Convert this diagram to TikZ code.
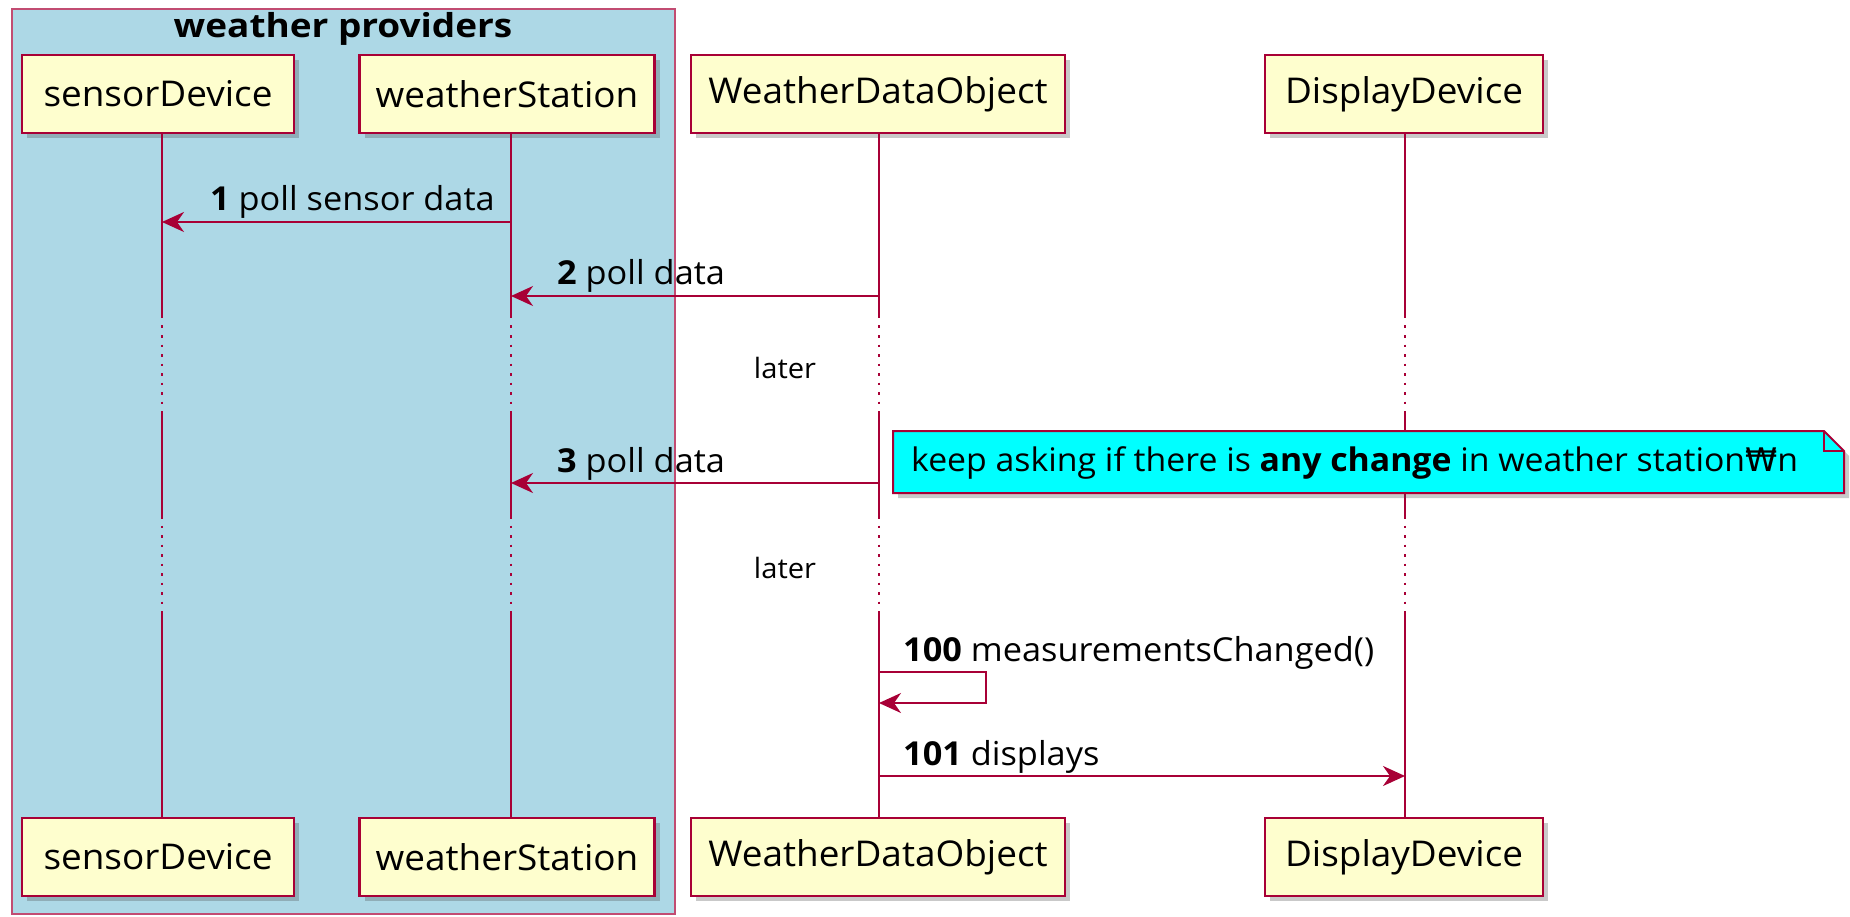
\documentclass[tikz,border=0pt]{standalone}
\usepackage{fontspec}
\setmainfont{Open Sans}[FakeStretch=1.04]
\newfontfamily\titlefont{Open Sans}[FakeStretch=1.12]
\newfontfamily\dejavu{DejaVu Sans}
\usetikzlibrary{shadows,arrows.meta,calc}
\definecolor{pborder}{HTML}{A80036}
\definecolor{pfill}{HTML}{FEFECE}
\definecolor{gfill}{HTML}{ADD8E6}
\definecolor{nfill}{HTML}{00FFFF}
\begin{document}
\begin{tikzpicture}[x=1pt,y=-1pt,
  shad/.style={drop shadow={shadow xshift=5pt,shadow yshift=-5pt,opacity=0.3,fill=black!70}},
  part/.style={draw=pborder,line width=2.5pt,fill=pfill,minimum height=78pt,inner sep=0pt,
    font=\fontsize{35.5}{40}\selectfont,shad},
  life/.style={draw=pborder,line width=1.6pt},
  lifedot/.style={draw=pborder,line width=1.6pt,dash pattern=on 2.5pt off 7pt},
  msg/.style={draw=pborder,line width=2.2pt,-{Stealth[length=22pt,width=20pt,inset=7pt]}},
  mlabel/.style={anchor=base west,inner sep=0pt,font=\fontsize{33}{38}\selectfont},
  later/.style={inner sep=0pt,font=\fontsize{28}{32}\selectfont}]
\useasboundingbox (0,0) rectangle (1850,917);
% group
\draw[draw=pborder!70,line width=2pt,fill=gfill] (12,9) rectangle (675,914);
\node[font=\fontsize{33}{38}\selectfont\titlefont\bfseries] (gtitle) at (343,29) {weather providers};
% participants
\node[part,minimum width=272pt] (sdT) at (158,94) {sensorDevice};
\node[part,minimum width=295pt] (wsT) at (507,94) {weatherStation};
\node[part,minimum width=374pt] (woT) at (878,94) {WeatherDataObject};
\node[part,minimum width=278pt] (ddT) at (1404,94) {DisplayDevice};
\node[part,minimum width=272pt] (sdB) at (158,857) {sensorDevice};
\node[part,minimum width=295pt] (wsB) at (507,857) {weatherStation};
\node[part,minimum width=374pt] (woB) at (878,857) {WeatherDataObject};
\node[part,minimum width=278pt] (ddB) at (1404,857) {DisplayDevice};
% lifeline x positions
\coordinate (sdX) at (162,0); \coordinate (wsX) at (511,0);
\coordinate (woX) at (879,0); \coordinate (ddX) at (1405,0);
% break levels
\coordinate (d1a) at (0,316); \coordinate (d1b) at (0,413);
\coordinate (d2a) at (0,516); \coordinate (d2b) at (0,613);
% lifelines
\foreach \p in {sd,ws,wo,dd}{
  \draw[life] (\p X |- \p T.south) -- (\p X |- d1a);
  \draw[lifedot] (\p X |- d1a) -- (\p X |- d1b);
  \draw[life] (\p X |- d1b) -- (\p X |- d2a);
  \draw[lifedot] (\p X |- d2a) -- (\p X |- d2b);
  \draw[life] (\p X |- d2b) -- (\p X |- \p B.north);
}
% later labels
\node[later] (l1) at (785,368) {later};
\node[later] (l2) at (785,568) {later};
% messages
\coordinate (m1) at (0,222);
\coordinate (m2) at (0,296);
\coordinate (m3) at (0,483);
\coordinate (m4) at (0,672);
\coordinate (m4b) at (0,703);
\coordinate (m5) at (0,776);
\draw[msg] (wsX |- m1) -- (sdX |- m1);
\node[mlabel] (t1) at (210,211) {\textbf{1} poll sensor data};
\draw[msg] (woX |- m2) -- (wsX |- m2);
\node[mlabel] (t2) at (557,285) {\textbf{2} poll data};
\draw[msg] (woX |- m3) -- (wsX |- m3);
\node[mlabel] (t3) at (557,472) {\textbf{3} poll data};
\coordinate (loopR) at (986,0);
\draw[msg] (woX |- m4) -- (loopR |- m4) -- (loopR |- m4b) -- (woX |- m4b);
\node[mlabel] (t4) at (903,661) {\textbf{100} measurementsChanged()};
\draw[msg] (woX |- m5) -- (ddX |- m5);
\node[mlabel] (t5) at (903,765) {\textbf{101} displays};
% note
\draw[draw=pborder,line width=2pt,fill=nfill,shad] (893,431) -- (1824,431) -- (1844,451) -- (1844,493) -- (893,493) -- cycle;
\draw[draw=pborder,line width=1.5pt] (1824,431) -- (1824,451) -- (1844,451);
\node[anchor=west,inner sep=0pt,font=\fontsize{32.5}{38}\selectfont] (note) at (911,463) {keep asking if there is \textbf{any change} in weather station{\dejavu ₩}n};
\end{tikzpicture}
\end{document}
